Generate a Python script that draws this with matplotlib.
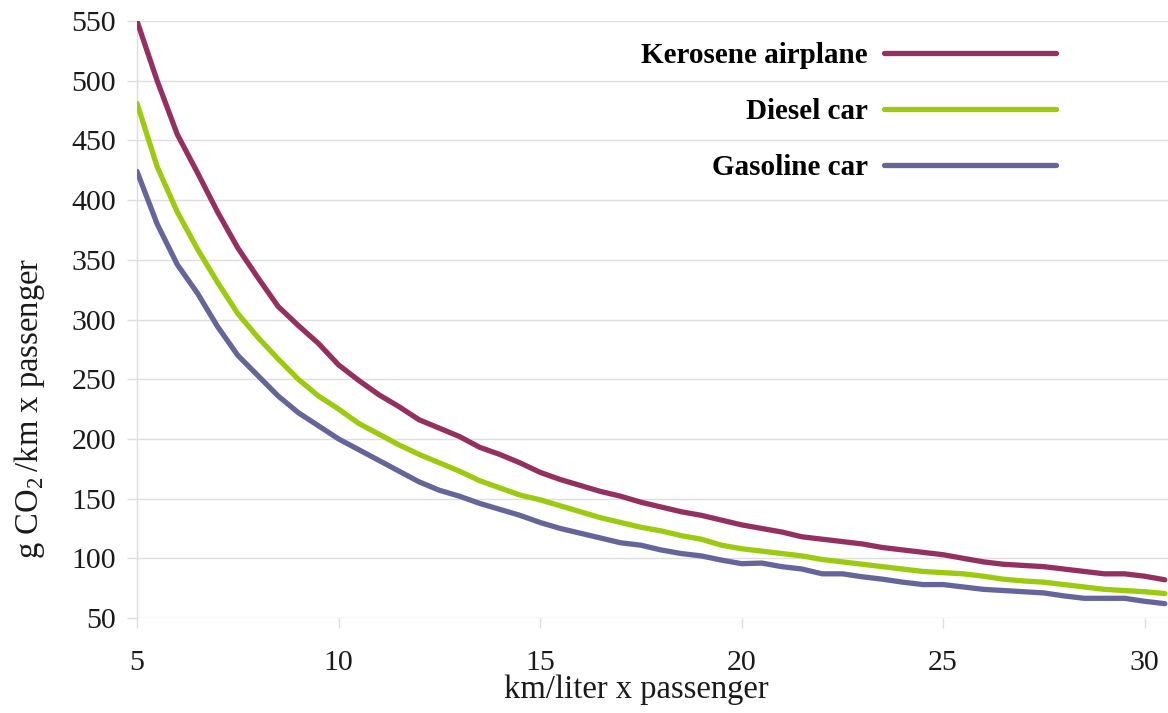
import matplotlib
matplotlib.use("Agg")
import matplotlib.pyplot as plt
import numpy as np

plt.rcParams['font.family'] = ['Liberation Serif', 'DejaVu Serif']
plt.rcParams['mathtext.fontset'] = 'custom'
plt.rcParams['mathtext.rm'] = 'Liberation Serif'

km_per_liter = [5.0, 5.5, 6.0, 6.5, 7.0, 7.5, 8.0, 8.5, 9.0, 9.5,
                10.0, 10.5, 11.0, 11.5, 12.0, 12.5, 13.0, 13.5, 14.0, 14.5,
                15.0, 15.5, 16.0, 16.5, 17.0, 17.5, 18.0, 18.5, 19.0, 19.5,
                20.0, 20.5, 21.0, 21.5, 22.0, 22.5, 23.0, 23.5, 24.0, 24.5,
                25.0, 25.5, 26.0, 26.5, 27.0, 27.5, 28.0, 28.5, 29.0, 29.5,
                30.0, 30.5]

kerosene_airplane = [550, 500, 455, 423, 390, 360, 335, 311, 295, 280,
                     262, 249, 237, 227, 216, 209, 202, 193, 187, 180,
                     172, 166, 161, 156, 152, 147, 143, 139, 136, 132,
                     128, 125, 122, 118, 116, 114, 112, 109, 107, 105,
                     103, 100, 97, 95, 94, 93, 91, 89, 87, 87,
                     85, 82]

diesel_car = [481, 428, 390, 359, 331, 305, 285, 267, 250, 236,
              225, 213, 204, 195, 187, 180, 173, 165, 159, 153,
              149, 144, 139, 134, 130, 126, 123, 119, 116, 111,
              108, 106, 104, 102, 99, 97, 95, 93, 91, 89,
              88, 87, 85, 82.5, 81, 80, 78, 76, 74, 73,
              72, 70.5]

gasoline_car = [424, 380, 346, 322, 294, 270, 253, 236, 222, 211,
                200, 191, 182, 173, 164, 157, 152, 146, 141, 136,
                130, 125, 121, 117, 113, 111, 107, 104, 102, 98.5,
                95.5, 96, 93, 91, 87, 87, 84.5, 82.5, 80, 78,
                78, 76, 74, 73, 72, 71, 68.5, 66.5, 66.5, 66.5,
                64, 62]

series_names = ["Kerosene airplane", "Diesel car", "Gasoline car"]
series_colors = ["#94305f", "#9bca0f", "#65659a"]

x_ticks = [5, 10, 15, 20, 25, 30]
y_ticks = [50, 100, 150, 200, 250, 300, 350, 400, 450, 500, 550]

fig = plt.figure(figsize=(11.68, 7.13), dpi=100)
ax = fig.add_axes([137/1168, 1 - 618/713, 1 - 137/1168, (618 - 21)/713])

for name, vals, col in zip(series_names, [kerosene_airplane, diesel_car, gasoline_car], series_colors):
    ax.plot(km_per_liter, vals, color=col, lw=3.8, label=name,
            solid_capstyle='round', solid_joinstyle='round', zorder=3)

ax.set_xlim(5, 30.58)
ax.set_ylim(50, 550)
ax.set_xticks(x_ticks)
ax.set_yticks(y_ticks)
ax.grid(axis='y', color='#dedede', lw=1.0, zorder=0)
for s in ['top', 'right', 'bottom']:
    ax.spines[s].set_visible(False)
ax.spines['left'].set_color('#dedede')
ax.spines['left'].set_linewidth(1.0)
ax.tick_params(axis='x', length=7, width=1.0, color='#dedede', labelsize=21.5, pad=16, labelcolor='#1a1a1a')
ax.tick_params(axis='y', length=7, width=1.0, color='#dedede', labelsize=21.5, pad=8, labelcolor='#1a1a1a')
for lab in ax.get_yticklabels() + ax.get_xticklabels():
    lab.set_clip_on(False)

fig.text(636/1168, 1 - 690/713, "km/liter x passenger", ha='center', va='center',
         fontsize=23.5, color='#1a1a1a')
fig.text(30/1168, 1 - 408/713, r"g CO$_\mathregular{2}$$\,$/km x passenger", ha='center', va='center',
         rotation=90, fontsize=23.5, color='#1a1a1a')

leg = ax.legend(loc='upper right', bbox_to_anchor=((1056 - 137)/1031, 1 - 21/597),
                frameon=False, markerfirst=False, handlelength=5.9, handletextpad=0.55,
                labelspacing=1.0, borderpad=0, borderaxespad=0,
                prop={'family': 'Liberation Serif', 'weight': 'bold', 'size': 21})

fig.savefig("out.png", dpi=100)
